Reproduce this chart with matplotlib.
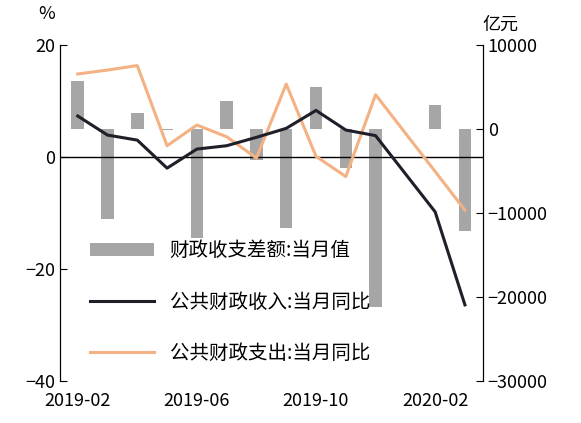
import numpy as np
import matplotlib.pyplot as plt

plt.rcParams['font.family'] = ['Noto Sans CJK SC', 'DejaVu Sans']
plt.rcParams['font.size'] = 13

months = ['2019-02', '2019-03', '2019-04', '2019-05', '2019-06', '2019-07', '2019-08',
          '2019-09', '2019-10', '2019-11', '2019-12', '2020-01', '2020-02', '2020-03']
balance = [5700, -10700, 1950, -100, -13000, 3300, -3700, -11800, 5000, -4700, -21150,
           np.nan, 2850, -12100]
revenue = [7.3, 3.9, 3.0, -2.0, 1.4, 2.0, 3.5, 5.1, 8.3, 4.8, 3.8, np.nan, -9.8, -26.4]
spending = [14.8, 15.5, 16.3, 2.0, 5.7, 3.6, -0.2, 13.0, 0.1, -3.5, 11.1, np.nan, -2.6, -9.5]
tick_labels = ['2019-02', '2019-06', '2019-10', '2020-02']

x = np.arange(len(months))
bal = np.array(balance, dtype=float)
rev = np.array(revenue, dtype=float)
spd = np.array(spending, dtype=float)
ok = ~np.isnan(rev)

fig = plt.figure(figsize=(5.81, 4.23), dpi=100)
ax = fig.add_axes([0.103, 0.099, 0.728, 0.795])
ax2 = ax.twinx()

bars = ax2.bar(x[ok], bal[ok], width=0.42, color='#a6a6a6', zorder=1)
ax2.set_ylim(-30000, 10000)
ax2.set_yticks([-30000, -20000, -10000, 0, 10000])

ax.set_zorder(ax2.get_zorder() + 1)
ax.patch.set_visible(False)
ax.axhline(0, color='black', lw=1, zorder=2)
l1, = ax.plot(x[ok], rev[ok], color='#1f1f2a', lw=2.2, zorder=4)
l2, = ax.plot(x[ok], spd[ok], color='#f4b183', lw=2.2, zorder=3)
ax.set_ylim(-40, 20)
ax.set_yticks([-40, -20, 0, 20])
ax.set_xlim(-0.6, len(months) - 0.4)
ax.set_xticks([months.index(t) for t in tick_labels])
ax.set_xticklabels(tick_labels)
ax.tick_params(axis='x', length=0, pad=8)

for a in (ax, ax2):
    a.spines['top'].set_visible(False)
    a.spines['bottom'].set_visible(False)
ax.tick_params(axis='y', direction='in', length=5)
ax2.tick_params(axis='y', direction='in', length=5)

fig.text(0.065, 0.955, '%', fontsize=13)
fig.text(0.83, 0.93, '亿元', fontsize=13)

ax.legend([bars, l1, l2], ['财政收支差额:当月值', '公共财政收入:当月同比', '公共财政支出:当月同比'],
          loc='lower left', bbox_to_anchor=(0.03, 0.0), frameon=False,
          handlelength=3.3, labelspacing=1.55, fontsize=14)

fig.savefig('out.png', dpi=100)
